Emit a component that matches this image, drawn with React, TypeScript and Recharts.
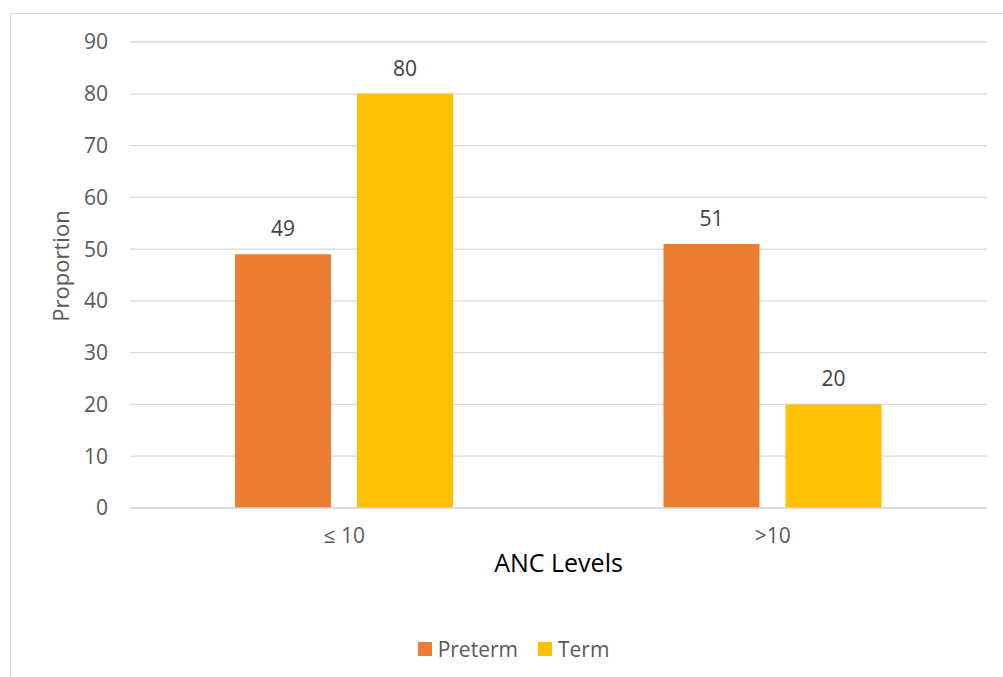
import React from 'react';
import {
  BarChart,
  Bar,
  XAxis,
  YAxis,
  CartesianGrid,
  Legend,
  LabelList,
} from 'recharts';

const categories = ['≤ 10', '>10'];
const pretermValues = [49, 51];
const termValues = [80, 20];
const yTicks = [0, 10, 20, 30, 40, 50, 60, 70, 80, 90];

const FONT = '"Open Sans", "Noto Sans", sans-serif';
const GRID = '#d9d9d9';
const TICK = '#595959';

const data = categories.map((name, i) => ({
  name,
  preterm: pretermValues[i],
  term: termValues[i],
}));

function LegendContent({ payload }: any) {
  return (
    <div style={{ display: 'flex', justifyContent: 'center', alignItems: 'center' }}>
      {(payload || []).map((p: any, i: number) => (
        <div
          key={p.value}
          style={{
            display: 'flex',
            alignItems: 'center',
            marginLeft: i === 0 ? 0 : 20,
          }}
        >
          <span
            style={{
              display: 'inline-block',
              width: 14,
              height: 14,
              background: p.color,
              marginRight: 6,
            }}
          />
          <span style={{ color: TICK, fontSize: 21, fontFamily: FONT }}>{p.value}</span>
        </div>
      ))}
    </div>
  );
}

export default function App() {
  return (
    <div
      style={{
        position: 'absolute',
        left: 0,
        top: 0,
        width: 1003,
        height: 677,
        background: '#fff',
        fontFamily: FONT,
      }}
    >
      {/* chart frame */}
      <div
        style={{
          position: 'absolute',
          left: 10,
          top: 13,
          width: 1003 - 10,
          height: 677 - 13,
          borderLeft: `1px solid ${GRID}`,
          borderTop: `1px solid ${GRID}`,
          boxSizing: 'border-box',
        }}
      />
      <div style={{ position: 'absolute', left: 0, top: 0 }}>
        <BarChart
          width={1003}
          height={677}
          data={data}
          margin={{ top: 42, right: 16, left: 40, bottom: 14 }}
          barGap={26}
          barSize={96}
        >
          <CartesianGrid vertical={false} stroke={GRID} strokeWidth={1.3} />
          <XAxis
            dataKey="name"
            height={127}
            axisLine={{ stroke: GRID, strokeWidth: 1.3 }}
            tickLine={false}
            tickSize={0}
            tickMargin={20}
            tick={{ fill: TICK, fontSize: 21, fontFamily: FONT }}
            label={{
              value: 'ANC Levels',
              position: 'insideTop',
              offset: 46,
              style: { fill: '#000', fontSize: 25, fontFamily: FONT },
            }}
          />
          <YAxis
            width={90}
            domain={[0, 90]}
            ticks={yTicks}
            axisLine={false}
            tickLine={false}
            tickSize={0}
            tickMargin={22}
            tick={{ fill: TICK, fontSize: 21, fontFamily: FONT }}
            label={{
              value: 'Proportion',
              angle: -90,
              position: 'insideLeft',
              offset: 21,
              dy: -9,
              style: { fill: TICK, fontSize: 22, fontFamily: FONT, textAnchor: 'middle' },
            }}
          />
          <Legend verticalAlign="bottom" content={<LegendContent />} />
          <Bar dataKey="preterm" name="Preterm" fill="#ED7D31" isAnimationActive={false}>
            <LabelList
              dataKey="preterm"
              position="top"
              offset={18}
              fill="#404040"
              fontSize={21}
              fontFamily={FONT}
            />
          </Bar>
          <Bar dataKey="term" name="Term" fill="#FFC000" isAnimationActive={false}>
            <LabelList
              dataKey="term"
              position="top"
              offset={18}
              fill="#404040"
              fontSize={21}
              fontFamily={FONT}
            />
          </Bar>
        </BarChart>
      </div>
    </div>
  );
}
